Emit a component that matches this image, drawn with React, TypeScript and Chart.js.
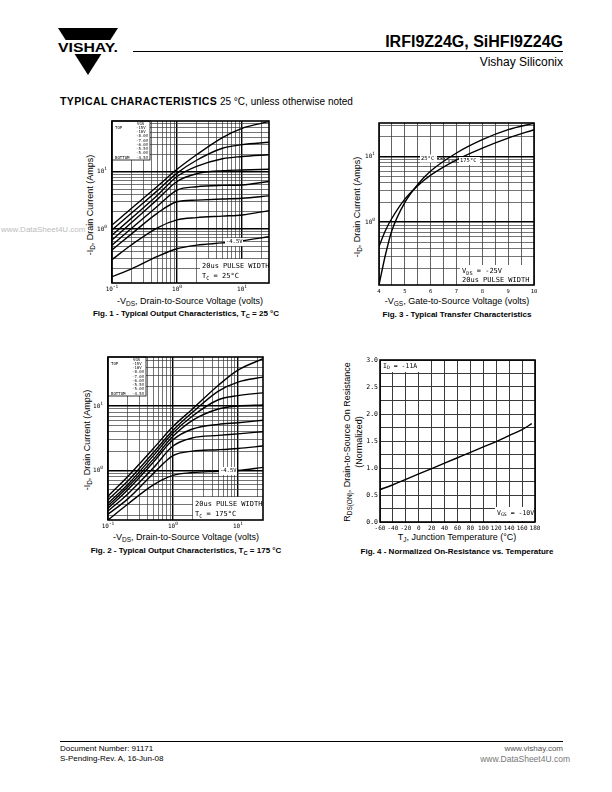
import React, { useEffect, useRef } from "react";
import { Chart, registerables } from "chart.js";
Chart.register(...registerables);

/* ================= DATA ================= */
// Fig. 1 - Typical Output Characteristics, TC = 25 °C  (x: -VDS volts, y: -ID amps)
const fig1Vds = [0.1, 0.2, 0.5, 1, 2, 5, 10, 26];
const fig1Vgs = ["-15V", "-10V", "-8.0V", "-7.0V", "-6.0V", "-5.5V", "-5.0V", "-4.5V"];
const fig1Id15 = [1.17, 2.3, 5.6, 11.1, 20, 40, 58, 76];
const fig1Id10 = [0.96, 1.9, 4.7, 9.5, 16, 26, 30, 33];
const fig1Id8 = [0.78, 1.55, 3.9, 8.3, 12.5, 17, 18.6, 20];
const fig1Id7 = [0.64, 1.3, 3.3, 6.8, 9.3, 10.5, 10.8, 11.1];
const fig1Id6 = [0.52, 1.03, 2.5, 4.8, 5.5, 5.8, 5.9, 6.8];
const fig1Id55 = [0.43, 0.82, 1.9, 3.0, 3.2, 3.35, 3.45, 3.8];
const fig1Id5 = [0.29, 0.53, 1.05, 1.44, 1.58, 1.68, 1.76, 2.1];
const fig1Id45 = [0.146, 0.2, 0.33, 0.45, 0.52, 0.57, 0.62, 0.73];

// Fig. 2 - Typical Output Characteristics, TC = 175 °C
const fig2Vds = [0.1, 0.2, 0.5, 1, 2, 5, 10, 24.3];
const fig2Vgs = ["-15V", "-10V", "-8.0V", "-7.0V", "-6.0V", "-5.5V", "-5.0V", "-4.5V"];
const fig2Id15 = [0.4, 0.8, 2.2, 4.8, 9, 21, 36, 54];
const fig2Id10 = [0.35, 0.68, 1.9, 4.2, 8, 17, 23.5, 28];
const fig2Id8 = [0.31, 0.6, 1.7, 3.8, 7, 12.5, 14.5, 16];
const fig2Id7 = [0.285, 0.55, 1.5, 3.4, 6, 9, 10, 10.4];
const fig2Id6 = [0.26, 0.5, 1.35, 3.0, 4.4, 5.2, 5.5, 6.0];
const fig2Id55 = [0.235, 0.43, 1.1, 2.4, 3.2, 3.5, 3.7, 4.0];
const fig2Id5 = [0.21, 0.36, 0.9, 1.7, 2.0, 2.1, 2.2, 2.4];
const fig2Id45 = [0.171, 0.3, 0.6, 0.84, 0.93, 0.97, 1.0, 1.12];

// Fig. 3 - Typical Transfer Characteristics (x: -VGS volts, y: -ID amps)
const fig3Vgs = [4, 4.25, 4.5, 5, 5.5, 6, 7, 8, 9, 10];
const fig3Id25C = [0.111, 0.32, 0.75, 2.0, 3.75, 6.0, 11.3, 18, 25.6, 32];
const fig3Id175C = [0.43, 0.75, 1.15, 2.25, 3.6, 5.2, 8.9, 13.4, 19, 25.6];

// Fig. 4 - Normalized On-Resistance vs. Temperature
const fig4Tj = [-60, -40, -20, 0, 20, 40, 60, 80, 100, 120, 140, 160, 175];
const fig4Rds = [0.6, 0.69, 0.79, 0.89, 0.99, 1.09, 1.19, 1.29, 1.39, 1.49, 1.6, 1.71, 1.82];

// Tick labels
const fig1XTicks = [0.1, 1, 10];
const fig1XExps = ["-1", "0", "1"];
const fig1YTicks = [1, 10];
const fig1YExps = ["0", "1"];
const fig2XTicks = [0.1, 1, 10];
const fig2XExps = ["-1", "0", "1"];
const fig2YTicks = [1, 10];
const fig2YExps = ["0", "1"];
const fig3XTicks = [4, 5, 6, 7, 8, 9, 10];
const fig3XLabels = ["4", "5", "6", "7", "8", "9", "10"];
const fig3YTicks = [1, 10];
const fig3YExps = ["0", "1"];
const fig4XTicks = [-60, -40, -20, 0, 20, 40, 60, 80, 100, 120, 140, 160, 180];
const fig4XLabels = ["-60", "-40", "-20", "0", "20", "40", "60", "80", "100", "120", "140", "160", "180"];
const fig4YTicks = [0, 0.5, 1, 1.5, 2, 2.5, 3];
const fig4YLabels = ["0.0", "0.5", "1.0", "1.5", "2.0", "2.5", "3.0"];

/* ================= HELPERS ================= */
type Area = { l: number; t: number; r: number; b: number };
type Box = { x: number; y: number; w: number; h: number };

const MONO = "'DejaVu Sans Mono', 'Liberation Mono', monospace";
const SANS = "'Liberation Sans', Arial, Helvetica, sans-serif";

function near(list: number[], v: number) {
  return list.some((a) => Math.abs(a - v) < 1e-6 * Math.max(1, Math.abs(a)));
}

function logGrid(min: number, max: number) {
  const out: number[] = [];
  for (let e = -3; e <= 3; e++) {
    for (let k = 1; k <= 9; k++) {
      const v = +(k * Math.pow(10, e)).toPrecision(4);
      if (v >= min * 0.999 && v <= max * 1.001) out.push(v);
    }
  }
  return out;
}

function stepGrid(min: number, max: number, step: number) {
  const out: number[] = [];
  for (let v = min; v <= max + 1e-9; v += step) out.push(+v.toFixed(6));
  return out;
}

function axis(kind: "logarithmic" | "linear", min: number, max: number, gridVals: number[], majors: number[], fit: (s: any) => void, minorW = 0.7, majorW = 1.4) {
  return {
    type: kind,
    min,
    max,
    bounds: "data",
    afterBuildTicks: (s: any) => {
      s.ticks = gridVals.map((v) => ({ value: v }));
    },
    afterFit: fit,
    ticks: { display: false, autoSkip: false },
    grid: {
      drawTicks: false,
      color: (c: any) => (c.tick && near(majors, c.tick.value) ? "#000" : "#3a3a3a"),
      lineWidth: (c: any) => (c.tick && near(majors, c.tick.value) ? majorW : minorW),
    },
    border: { display: false },
  };
}

function txt(ctx: CanvasRenderingContext2D, s: string, x: number, y: number, size: number, align: CanvasTextAlign = "left", font = MONO) {
  ctx.font = `${size}px ${font}`;
  ctx.textAlign = align;
  ctx.textBaseline = "middle";
  ctx.fillStyle = "#000";
  ctx.fillText(s, x, y);
}

// draws "10" with superscript exponent
function pow10(ctx: CanvasRenderingContext2D, x: number, y: number, exp: string, align: "center" | "right") {
  ctx.font = `6px ${MONO}`;
  const w1 = ctx.measureText("10").width;
  ctx.font = `4.5px ${MONO}`;
  const w2 = ctx.measureText(exp).width;
  const total = w1 + w2;
  const sx = align === "center" ? x - total / 2 : x - total;
  txt(ctx, "10", sx, y, 6);
  txt(ctx, exp, sx + w1, y - 2.6, 4.5);
}

// rich text: segments [text, mode] mode 0 normal, 1 subscript
function rich(ctx: CanvasRenderingContext2D, x: number, y: number, segs: [string, number][], size: number) {
  let cx = x;
  for (const [s, m] of segs) {
    const sz = m ? size * 0.75 : size;
    ctx.font = `${sz}px ${MONO}`;
    txt(ctx, s, cx, m ? y + size * 0.3 : y, sz);
    cx += ctx.measureText(s).width;
  }
}

function whiteRect(ctx: CanvasRenderingContext2D, x: number, y: number, w: number, h: number) {
  ctx.fillStyle = "#fff";
  ctx.fillRect(x, y, w, h);
}

function makeOptions(box: Box, area: Area, x: any, y: any) {
  return {
    responsive: false,
    animation: false,
    devicePixelRatio: 1,
    layout: {
      autoPadding: false,
      padding: { left: 0, top: area.t - box.y, right: box.x + box.w - area.r, bottom: 0 },
    },
    plugins: { legend: { display: false }, tooltip: { enabled: false }, title: { display: false } },
    elements: {
      point: { radius: 0 },
      line: { borderWidth: 1.4, borderColor: "#000", cubicInterpolationMode: "monotone" },
    },
    scales: { x, y },
  };
}

function fitW(box: Box, area: Area) {
  return (s: any) => {
    s.width = area.l - box.x;
  };
}
function fitH(box: Box, area: Area) {
  return (s: any) => {
    s.height = box.y + box.h - area.b;
  };
}

function series(xs: number[], ys: number[]) {
  return {
    data: xs.map((v, i) => ({ x: v, y: ys[i] })),
    borderColor: "#000",
    borderWidth: 1.4,
    pointRadius: 0,
    fill: false,
  };
}

function overlayPlugin(box: Box, draw: (ctx: CanvasRenderingContext2D, chart: any, P: (x: number, y: number) => [number, number]) => void) {
  return {
    id: "overlay",
    afterDraw(chart: any) {
      const ctx: CanvasRenderingContext2D = chart.ctx;
      const P = (x: number, y: number): [number, number] => [x - box.x, y - box.y];
      ctx.save();
      draw(ctx, chart, P);
      const a = chart.chartArea;
      ctx.strokeStyle = "#000";
      ctx.lineWidth = 1.6;
      ctx.strokeRect(a.left, a.top, a.right - a.left, a.bottom - a.top);
      ctx.restore();
    },
  };
}

function legendBox(ctx: CanvasRenderingContext2D, chart: any, labels: string[]) {
  const a = chart.chartArea;
  const w = 38;
  const h = 39;
  whiteRect(ctx, a.left, a.top, w, h);
  ctx.strokeStyle = "#000";
  ctx.lineWidth = 0.8;
  ctx.strokeRect(a.left, a.top, w, h);
  const step = 4.25;
  txt(ctx, "VGS", a.left + 25, a.top + 2.5, 4);
  labels.forEach((l, i) => txt(ctx, l, a.left + 24, a.top + 2.5 + step * (i + 1), 4));
  txt(ctx, "TOP", a.left + 3, a.top + 2.5 + step, 4);
  txt(ctx, "BOTTOM", a.left + 3, a.top + 2.5 + step * labels.length, 4);
}

function ChartCanvas({ box, config }: { box: Box; config: () => any }) {
  const ref = useRef<HTMLCanvasElement>(null);
  useEffect(() => {
    const chart = new Chart(ref.current as HTMLCanvasElement, config());
    return () => chart.destroy();
  }, []);
  return (
    <canvas
      ref={ref}
      width={box.w}
      height={box.h}
      style={{ position: "absolute", left: box.x, top: box.y, width: box.w, height: box.h }}
    />
  );
}

/* ================= CHART CONFIGS ================= */
const box1: Box = { x: 86, y: 114, w: 196, h: 182 };
const area1: Area = { l: 112, t: 121, r: 269, b: 283 };
const box2: Box = { x: 82, y: 350, w: 194, h: 183 };
const area2: Area = { l: 108, t: 357, r: 263, b: 520 };
const box3: Box = { x: 355, y: 116, w: 193, h: 182 };
const area3: Area = { l: 379, t: 123, r: 534, b: 285 };
const box4: Box = { x: 352, y: 353, w: 196, h: 182 };
const area4: Area = { l: 380, t: 360, r: 535, b: 522 };

function outputConfig(box: Box, area: Area, xs: number[], curves: number[][], xMin: number, xMax: number, yMin: number, yMax: number, xT: number[], xE: string[], yT: number[], yE: string[], vgs: string[], tcLabel: string, labelY: number, pulse: [number, number]) {
  const x = axis("logarithmic", xMin, xMax, logGrid(xMin, xMax), xT, fitH(box, area));
  const y = axis("logarithmic", yMin, yMax, logGrid(yMin, yMax), yT, fitW(box, area), 0.7, 1.6);
  return {
    type: "line",
    data: { datasets: curves.map((c) => series(xs, c)) },
    options: makeOptions(box, area, x, y),
    plugins: [
      overlayPlugin(box, (ctx, chart, P) => {
        const sx = chart.scales.x;
        const sy = chart.scales.y;
        xT.forEach((v, i) => pow10(ctx, sx.getPixelForValue(v), chart.chartArea.bottom + 6.5, xE[i], "center"));
        yT.forEach((v, i) => pow10(ctx, chart.chartArea.left - 5, sy.getPixelForValue(v), yE[i], "right"));
        legendBox(ctx, chart, vgs);
        // -4.5V label
        const [lx, ly] = P(area.r - 43, labelY);
        whiteRect(ctx, lx - 1, ly - 4, 18, 8);
        txt(ctx, "-4.5V", lx, ly, 5.5);
        // pulse width box
        const [bx, by] = P(pulse[0], pulse[1]);
        whiteRect(ctx, bx, by, area.r - pulse[0], area.b - pulse[1]);
        txt(ctx, "20us PULSE WIDTH", bx + 2, by + 7, 7);
        rich(ctx, bx + 2, by + 17.5, [["T", 0], ["C", 1], [" = " + tcLabel, 0]], 7);
      }),
    ],
  };
}

const fig1Config = () =>
  outputConfig(
    box1, area1, fig1Vds,
    [fig1Id15, fig1Id10, fig1Id8, fig1Id7, fig1Id6, fig1Id55, fig1Id5, fig1Id45],
    0.1, 26, 0.113, 78,
    fig1XTicks, fig1XExps, fig1YTicks, fig1YExps, fig1Vgs, "25°C", 242, [200, 259]
  );

const fig2Config = () =>
  outputConfig(
    box2, area2, fig2Vds,
    [fig2Id15, fig2Id10, fig2Id8, fig2Id7, fig2Id6, fig2Id55, fig2Id5, fig2Id45],
    0.1, 24.3, 0.171, 57.5,
    fig2XTicks, fig2XExps, fig2YTicks, fig2YExps, fig2Vgs, "175°C", 471, [193, 497]
  );

const fig3Config = () => {
  const x = axis("linear", 4, 10, stepGrid(4, 10, 0.5), [], fitH(box3, area3), 0.8, 0.8);
  const y = axis("logarithmic", 0.111, 32.3, logGrid(0.111, 32.3), fig3YTicks, fitW(box3, area3), 0.7, 1.6);
  return {
    type: "line",
    data: { datasets: [series(fig3Vgs, fig3Id25C), series(fig3Vgs, fig3Id175C)] },
    options: makeOptions(box3, area3, x, y),
    plugins: [
      overlayPlugin(box3, (ctx, chart, P) => {
        const sx = chart.scales.x;
        const sy = chart.scales.y;
        fig3XTicks.forEach((v, i) => txt(ctx, fig3XLabels[i], sx.getPixelForValue(v), chart.chartArea.bottom + 6.5, 5.5, "center"));
        fig3YTicks.forEach((v, i) => pow10(ctx, chart.chartArea.left - 4, sy.getPixelForValue(v), fig3YExps[i], "right"));
        // 25°C / 175°C labels
        let [x1, y1] = P(421, 158.5);
        whiteRect(ctx, x1 - 1, y1 - 4, 17, 8);
        txt(ctx, "25°C", x1, y1, 5.5);
        ctx.strokeStyle = "#000";
        ctx.lineWidth = 0.8;
        ctx.setLineDash([2, 1.5]);
        ctx.beginPath();
        ctx.moveTo(x1 + 16, y1);
        ctx.lineTo(x1 + 24, y1);
        ctx.stroke();
        let [x2, y2] = P(460, 161);
        ctx.beginPath();
        ctx.moveTo(x2 - 12, y2);
        ctx.lineTo(x2 - 2, y2);
        ctx.stroke();
        ctx.setLineDash([]);
        whiteRect(ctx, x2 - 1, y2 - 4, 21, 8);
        txt(ctx, "175°C", x2, y2, 5.5);
        // VDS box
        const [bx, by] = P(460, 265);
        whiteRect(ctx, bx, by, area3.r - 460, area3.b - 265);
        rich(ctx, bx + 2, by + 6.5, [["V", 0], ["DS", 1], [" = -25V", 0]], 7);
        txt(ctx, "20us PULSE WIDTH", bx + 2, by + 15.5, 7);
      }),
    ],
  };
};

const fig4Config = () => {
  const x = axis("linear", -60, 180, stepGrid(-60, 180, 20), [], fitH(box4, area4), 1.0, 1.0);
  const y = axis("linear", 0, 3, stepGrid(0, 3, 0.25), [], fitW(box4, area4), 1.0, 1.0);
  return {
    type: "line",
    data: { datasets: [{ ...series(fig4Tj, fig4Rds), cubicInterpolationMode: "monotone" }] },
    options: makeOptions(box4, area4, x, y),
    plugins: [
      overlayPlugin(box4, (ctx, chart, P) => {
        const sx = chart.scales.x;
        const sy = chart.scales.y;
        fig4XTicks.forEach((v, i) => txt(ctx, fig4XLabels[i], sx.getPixelForValue(v), chart.chartArea.bottom + 6, 6, "center"));
        fig4YTicks.forEach((v, i) => txt(ctx, fig4YLabels[i], chart.chartArea.left - 2, sy.getPixelForValue(v), 6.5, "right"));
        const [ax, ay] = P(381, 361);
        whiteRect(ctx, ax, ay, 40, 11);
        rich(ctx, ax + 2, ay + 5, [["I", 0], ["D", 1], [" = -11A", 0]], 6.5);
        const [vx, vy] = P(495, 507);
        whiteRect(ctx, vx, vy, 39, 14);
        rich(ctx, vx + 2, vy + 6, [["V", 0], ["GS", 1], [" = -10V", 0]], 6.5);
      }),
    ],
  };
};

/* ================= PAGE ================= */
function Txt({ x, y, size, bold, align = "left", color = "#000", weight, children }: any) {
  const style: any = {
    position: "absolute",
    top: y,
    fontSize: size,
    fontWeight: weight ?? (bold ? 700 : 400),
    color,
    whiteSpace: "nowrap",
    lineHeight: 1,
    fontFamily: SANS,
    transform: "translateY(-50%)",
  };
  if (align === "left") style.left = x;
  else if (align === "right") style.right = 612 - x;
  else {
    style.left = x;
    style.transform = "translate(-50%,-50%)";
  }
  return <div style={style}>{children}</div>;
}

function VTxt({ x, y, size, children }: any) {
  return (
    <div
      style={{
        position: "absolute",
        left: x,
        top: y,
        transform: "translate(-50%,-50%) rotate(-90deg)",
        fontSize: size,
        fontFamily: SANS,
        whiteSpace: "nowrap",
        lineHeight: 1.3,
        textAlign: "center",
      }}
    >
      {children}
    </div>
  );
}

const Sub = ({ children }: any) => <span style={{ fontSize: "0.72em", verticalAlign: "-0.3em" }}>{children}</span>;

export default function App() {
  useEffect(() => {
    document.body.style.margin = "0";
  }, []);
  return (
    <div style={{ position: "absolute", left: 0, top: 0, width: 612, height: 792, background: "#fff", overflow: "hidden", fontFamily: SANS }}>
      {/* Logo */}
      <svg style={{ position: "absolute", left: 55, top: 25 }} width={68} height={55}>
        <polygon points="3,3 63,3 55.3,15 10.7,15" fill="#000" />
        <polygon points="19.6,29 46.4,29 33,50" fill="#000" />
        <text x={3} y={26.5} fontFamily={SANS} fontWeight={700} fontSize={12} textLength={60} lengthAdjust="spacingAndGlyphs">
          VISHAY.
        </text>
      </svg>
      <Txt x={563} y={42} size={16} weight={700} align="right">IRFI9Z24G, SiHFI9Z24G</Txt>
      <div style={{ position: "absolute", left: 133, top: 51, width: 430, height: 1, background: "#000" }} />
      <Txt x={563} y={62} size={12} align="right">Vishay Siliconix</Txt>

      <Txt x={60} y={101} size={10} align="left">
        <span style={{ fontWeight: 900, fontSize: 10.5, letterSpacing: 0.4 }}>TYPICAL CHARACTERISTICS</span> 25 °C, unless otherwise noted
      </Txt>

      <Txt x={1} y={230} size={8} color="#bdbdbd">www.DataSheet4U.com</Txt>

      {/* Fig 1 */}
      <VTxt x={91} y={205} size={9}>
        -I<Sub>D</Sub>, Drain Current (Amps)
      </VTxt>
      <Txt x={190} y={302} size={9} align="center">
        -V<Sub>DS</Sub>, Drain-to-Source Voltage (volts)
      </Txt>
      <Txt x={186} y={315} size={8} bold align="center">
        Fig. 1 - Typical Output Characteristics, T<Sub>C</Sub> = 25 °C
      </Txt>
      <ChartCanvas box={box1} config={fig1Config} />

      {/* Fig 3 */}
      <VTxt x={358} y={207} size={9}>
        -I<Sub>D</Sub>, Drain Current (Amps)
      </VTxt>
      <Txt x={457} y={302} size={9} align="center">
        -V<Sub>GS</Sub>, Gate-to-Source Voltage (volts)
      </Txt>
      <Txt x={457} y={315} size={8} bold align="center">
        Fig. 3 - Typical Transfer Characteristics
      </Txt>
      <ChartCanvas box={box3} config={fig3Config} />

      {/* Fig 2 */}
      <VTxt x={88} y={440} size={9}>
        -I<Sub>D</Sub>, Drain Current (Amps)
      </VTxt>
      <Txt x={186} y={538} size={9} align="center">
        -V<Sub>DS</Sub>, Drain-to-Source Voltage (volts)
      </Txt>
      <Txt x={186} y={552} size={8} bold align="center">
        Fig. 2 - Typical Output Characteristics, T<Sub>C</Sub> = 175 °C
      </Txt>
      <ChartCanvas box={box2} config={fig2Config} />

      {/* Fig 4 */}
      <VTxt x={354} y={442} size={9}>
        <div>
          R<Sub>DS(ON)</Sub>, Drain-to-Source On Resistance
        </div>
        <div>(Normalized)</div>
      </VTxt>
      <Txt x={457} y={538} size={9} align="center">
        T<Sub>J</Sub>, Junction Temperature (°C)
      </Txt>
      <Txt x={457} y={552} size={8} bold align="center">
        Fig. 4 - Normalized On-Resistance vs. Temperature
      </Txt>
      <ChartCanvas box={box4} config={fig4Config} />

      {/* Footer */}
      <div style={{ position: "absolute", left: 60, top: 741, width: 503, height: 1, background: "#000" }} />
      <Txt x={60} y={749} size={8}>Document Number: 91171</Txt>
      <Txt x={60} y={759} size={8}>S-Pending-Rev. A, 16-Jun-08</Txt>
      <Txt x={563} y={749} size={8} align="right" color="#555">www.vishay.com</Txt>
      <Txt x={570} y={759} size={8.5} align="right" color="#777">www.DataSheet4U.com</Txt>
    </div>
  );
}
